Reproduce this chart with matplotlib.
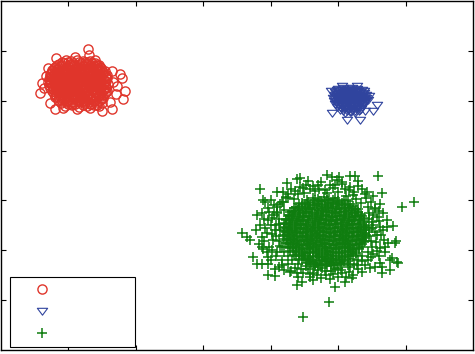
import matplotlib
matplotlib.use('Agg')
import matplotlib.pyplot as plt
from matplotlib.path import Path

# ---- data (axis units: ticks at 1..6 on both axes) ----
red_points = [
    (0.96,5.81),(1.04,5.79),(1.13,5.82),(1.21,5.80),(1.29,5.78),
    (0.86,5.73),(0.93,5.76),(1.02,5.74),(1.09,5.72),(1.18,5.75),(1.26,5.73),(1.35,5.76),(1.42,5.72),
    (0.80,5.67),(0.89,5.69),(0.97,5.66),(1.06,5.70),(1.14,5.67),(1.22,5.69),(1.31,5.66),(1.38,5.70),(1.47,5.67),
    (0.76,5.61),(0.83,5.63),(0.92,5.60),(1.00,5.64),(1.08,5.61),(1.17,5.63),(1.24,5.60),(1.33,5.62),(1.41,5.64),(1.50,5.61),
    (0.74,5.55),(0.81,5.57),(0.88,5.54),(0.96,5.58),(1.03,5.55),(1.11,5.57),(1.20,5.54),(1.27,5.56),(1.35,5.58),(1.44,5.55),(1.52,5.57),
    (0.72,5.49),(0.79,5.51),(0.86,5.48),(0.94,5.52),(1.01,5.50),(1.08,5.48),(1.16,5.51),(1.23,5.49),(1.31,5.52),(1.39,5.48),(1.47,5.51),(1.55,5.49),
    (0.71,5.43),(0.78,5.45),(0.85,5.42),(0.92,5.46),(0.99,5.44),(1.06,5.42),(1.13,5.45),(1.21,5.43),(1.28,5.46),(1.36,5.42),(1.44,5.45),(1.51,5.43),(1.57,5.46),
    (0.70,5.37),(0.77,5.39),(0.84,5.36),(0.90,5.40),(0.97,5.38),(1.04,5.36),(1.12,5.39),(1.19,5.37),(1.26,5.40),(1.34,5.36),(1.42,5.39),(1.49,5.37),(1.56,5.40),
    (0.71,5.31),(0.78,5.33),(0.85,5.30),(0.92,5.34),(0.99,5.32),(1.07,5.30),(1.14,5.33),(1.22,5.31),(1.29,5.34),(1.37,5.30),(1.45,5.33),(1.53,5.31),(1.58,5.34),
    (0.73,5.25),(0.80,5.27),(0.87,5.24),(0.94,5.28),(1.02,5.26),(1.09,5.24),(1.17,5.27),(1.24,5.25),(1.32,5.28),(1.40,5.24),(1.48,5.27),(1.56,5.25),
    (0.75,5.19),(0.82,5.21),(0.89,5.18),(0.97,5.22),(1.04,5.20),(1.12,5.18),(1.19,5.21),(1.27,5.19),(1.35,5.22),(1.43,5.18),(1.51,5.21),(1.57,5.19),
    (0.78,5.13),(0.85,5.15),(0.92,5.12),(1.00,5.16),(1.08,5.14),(1.15,5.12),(1.23,5.15),(1.31,5.13),(1.39,5.16),(1.47,5.12),(1.54,5.15),
    (0.80,5.07),(0.88,5.09),(0.96,5.06),(1.04,5.10),(1.12,5.08),(1.20,5.06),(1.28,5.09),(1.36,5.07),(1.44,5.10),(1.52,5.06),
    (0.84,5.01),(0.92,5.03),(1.00,5.00),(1.08,5.04),(1.16,5.02),(1.24,5.00),(1.32,5.03),(1.40,5.01),(1.48,5.04),
    (0.89,4.95),(0.97,4.97),(1.06,4.94),(1.15,4.98),(1.24,4.96),(1.33,4.94),(1.42,4.97),(1.50,4.95),
    (0.95,4.89),(1.05,4.91),(1.16,4.88),(1.27,4.90),(1.38,4.91),(1.46,4.89),
    # second, offset layer of the dense blob
    (0.90,5.77),(0.99,5.78),(1.07,5.76),(1.16,5.78),(1.24,5.77),(1.32,5.79),(1.39,5.76),
    (0.83,5.71),(0.91,5.72),(1.00,5.70),(1.09,5.71),(1.17,5.72),(1.26,5.70),(1.34,5.71),(1.42,5.69),(1.46,5.72),
    (0.78,5.65),(0.86,5.66),(0.94,5.64),(1.03,5.66),(1.11,5.65),(1.19,5.64),(1.28,5.66),(1.36,5.65),(1.44,5.64),(1.49,5.66),
    (0.75,5.59),(0.84,5.60),(0.91,5.58),(0.99,5.60),(1.07,5.59),(1.15,5.58),(1.23,5.60),(1.31,5.59),(1.39,5.58),(1.47,5.60),(1.54,5.59),
    (0.73,5.53),(0.82,5.54),(0.90,5.52),(0.97,5.54),(1.05,5.53),(1.12,5.52),(1.19,5.54),(1.27,5.53),(1.35,5.52),(1.43,5.54),(1.51,5.53),(1.57,5.52),
    (0.74,5.47),(0.82,5.48),(0.89,5.46),(0.96,5.48),(1.04,5.47),(1.11,5.46),(1.19,5.48),(1.26,5.47),(1.34,5.46),(1.41,5.48),(1.49,5.47),(1.56,5.46),
    (0.73,5.41),(0.80,5.42),(0.87,5.40),(0.95,5.42),(1.02,5.41),(1.09,5.40),(1.17,5.42),(1.24,5.41),(1.32,5.40),(1.39,5.42),(1.47,5.41),(1.54,5.40),
    (0.73,5.35),(0.81,5.36),(0.87,5.34),(0.94,5.36),(1.01,5.35),(1.08,5.34),(1.15,5.36),(1.23,5.35),(1.30,5.34),(1.38,5.36),(1.46,5.35),(1.53,5.34),
    (0.75,5.29),(0.82,5.30),(0.89,5.28),(0.96,5.30),(1.04,5.29),(1.11,5.28),(1.18,5.30),(1.26,5.29),(1.33,5.28),(1.41,5.30),(1.49,5.29),(1.55,5.28),
    (0.77,5.23),(0.84,5.24),(0.92,5.22),(0.99,5.24),(1.06,5.23),(1.14,5.22),(1.22,5.24),(1.29,5.23),(1.37,5.22),(1.45,5.24),(1.53,5.23),
    (0.80,5.17),(0.87,5.18),(0.95,5.16),(1.02,5.18),(1.10,5.17),(1.17,5.16),(1.25,5.18),(1.33,5.17),(1.41,5.16),(1.49,5.18),(1.55,5.17),
    (0.82,5.11),(0.90,5.12),(0.97,5.10),(1.05,5.12),(1.12,5.11),(1.20,5.10),(1.28,5.12),(1.36,5.11),(1.44,5.10),(1.51,5.12),
    (0.86,5.05),(0.93,5.06),(1.01,5.04),(1.09,5.06),(1.17,5.05),(1.25,5.04),(1.33,5.06),(1.41,5.05),(1.48,5.04),
    (0.90,4.99),(0.98,5.00),(1.06,4.98),(1.14,5.00),(1.22,4.99),(1.30,4.98),(1.38,5.00),(1.45,4.99),
    (0.99,4.93),(1.10,4.94),(1.21,4.92),(1.32,4.93),(1.42,4.92),
    # fringe
    (0.61,5.36),(0.58,5.16),(0.82,5.86),(1.29,6.04),(1.31,5.92),(1.77,5.54),(1.84,5.20),(1.81,5.04),
    (1.80,5.46),(1.65,4.84),(1.50,4.80),(0.80,4.84),(0.73,4.96),(0.92,4.86),(1.13,4.84),(1.32,4.86),
    (1.66,5.38),(1.70,5.14),(1.64,5.60),(0.66,5.50),(0.64,5.26),(1.10,5.88),(1.40,5.82),(0.70,5.66),
    (1.62,4.98),(1.72,5.30),
]

blue_points = [
    (5.00,5.24),(5.07,5.25),(5.14,5.23),(5.21,5.25),(5.28,5.24),
    (4.96,5.17),(5.02,5.19),(5.08,5.18),(5.14,5.17),(5.20,5.19),(5.26,5.18),(5.32,5.17),(5.38,5.19),
    (4.94,5.11),(5.00,5.13),(5.06,5.12),(5.12,5.11),(5.18,5.13),(5.24,5.12),(5.30,5.11),(5.36,5.13),(5.42,5.12),
    (4.93,5.05),(4.99,5.07),(5.05,5.06),(5.11,5.05),(5.17,5.07),(5.23,5.06),(5.29,5.05),(5.35,5.07),(5.41,5.06),
    (4.94,4.99),(5.00,5.01),(5.06,5.00),(5.12,4.99),(5.18,5.01),(5.24,5.00),(5.30,4.99),(5.36,5.01),(5.42,5.00),
    (4.96,4.93),(5.02,4.95),(5.08,4.94),(5.14,4.93),(5.20,4.95),(5.26,4.94),(5.32,4.93),(5.38,4.95),
    (4.99,4.87),(5.05,4.89),(5.11,4.88),(5.17,4.87),(5.23,4.89),(5.29,4.88),(5.35,4.87),
    (5.03,4.81),(5.09,4.83),(5.15,4.82),(5.21,4.81),(5.27,4.83),(5.33,4.82),
    (5.10,4.76),(5.18,4.77),(5.25,4.75),
    (4.99,5.21),(5.05,5.22),(5.11,5.20),(5.17,5.22),(5.23,5.21),(5.29,5.20),(5.35,5.22),
    (4.97,5.15),(5.03,5.16),(5.09,5.14),(5.15,5.16),(5.21,5.15),(5.27,5.14),(5.33,5.16),(5.39,5.15),
    (4.95,5.09),(5.02,5.10),(5.08,5.08),(5.14,5.10),(5.20,5.09),(5.26,5.08),(5.32,5.10),(5.38,5.09),
    (4.96,5.03),(5.02,5.04),(5.08,5.02),(5.14,5.04),(5.20,5.03),(5.26,5.02),(5.32,5.04),(5.38,5.03),(5.44,5.02),
    (4.97,4.97),(5.03,4.98),(5.09,4.96),(5.15,4.98),(5.21,4.97),(5.27,4.96),(5.33,4.98),(5.39,4.97),
    (5.00,4.91),(5.06,4.92),(5.12,4.90),(5.18,4.92),(5.24,4.91),(5.30,4.90),(5.36,4.92),
    (5.04,4.85),(5.10,4.86),(5.16,4.84),(5.22,4.86),(5.28,4.85),(5.34,4.84),
    (5.07,4.79),(5.13,4.80),(5.19,4.78),(5.25,4.80),(5.31,4.79),
    (4.91,4.76),(5.13,4.62),(5.33,4.62),(5.58,4.92),(5.52,4.80),(5.06,5.30),(5.28,5.30),
    (5.46,5.10),(4.90,5.20),(5.40,4.80),
]

green_points = [
    # dense core
    (4.62,3.05),(4.70,3.03),(4.79,3.06),(4.87,3.02),(4.96,3.04),
    (4.47,2.95),(4.55,2.97),(4.64,2.94),(4.72,2.98),(4.81,2.96),(4.89,2.94),(4.98,2.97),(5.06,2.95),(5.14,2.98),
    (4.38,2.87),(4.46,2.89),(4.55,2.86),(4.63,2.90),(4.72,2.88),(4.80,2.86),(4.89,2.89),(4.97,2.87),(5.06,2.90),(5.14,2.86),(5.22,2.89),
    (4.31,2.79),(4.40,2.81),(4.48,2.78),(4.57,2.82),(4.65,2.80),(4.74,2.78),(4.82,2.81),(4.91,2.79),(4.99,2.82),(5.08,2.78),(5.16,2.81),(5.25,2.79),(5.30,2.82),
    (4.27,2.71),(4.35,2.73),(4.44,2.70),(4.52,2.74),(4.61,2.72),(4.69,2.70),(4.78,2.73),(4.86,2.71),(4.95,2.74),(5.03,2.70),(5.12,2.73),(5.20,2.71),(5.29,2.74),(5.34,2.70),
    (4.23,2.63),(4.31,2.65),(4.40,2.62),(4.48,2.66),(4.57,2.64),(4.65,2.62),(4.74,2.65),(4.82,2.63),(4.91,2.66),(4.99,2.62),(5.08,2.65),(5.16,2.63),(5.25,2.66),(5.33,2.62),(5.38,2.65),
    (4.21,2.55),(4.29,2.57),(4.38,2.54),(4.46,2.58),(4.55,2.56),(4.63,2.54),(4.72,2.57),(4.80,2.55),(4.89,2.58),(4.97,2.54),(5.06,2.57),(5.14,2.55),(5.23,2.58),(5.31,2.54),(5.39,2.57),
    (4.19,2.47),(4.27,2.49),(4.36,2.46),(4.44,2.50),(4.53,2.48),(4.61,2.46),(4.70,2.49),(4.78,2.47),(4.87,2.50),(4.95,2.46),(5.04,2.49),(5.12,2.47),(5.21,2.50),(5.29,2.46),(5.38,2.49),(5.42,2.47),
    (4.20,2.39),(4.28,2.41),(4.37,2.38),(4.45,2.42),(4.54,2.40),(4.62,2.38),(4.71,2.41),(4.79,2.39),(4.88,2.42),(4.96,2.38),(5.05,2.41),(5.13,2.39),(5.22,2.42),(5.30,2.38),(5.39,2.41),
    (4.18,2.31),(4.26,2.33),(4.35,2.30),(4.43,2.34),(4.52,2.32),(4.60,2.30),(4.69,2.33),(4.77,2.31),(4.86,2.34),(4.94,2.30),(5.03,2.33),(5.11,2.31),(5.20,2.34),(5.28,2.30),(5.37,2.33),(5.42,2.31),
    (4.20,2.23),(4.29,2.25),(4.37,2.22),(4.46,2.26),(4.54,2.24),(4.63,2.22),(4.71,2.25),(4.80,2.23),(4.88,2.26),(4.97,2.22),(5.05,2.25),(5.14,2.23),(5.22,2.26),(5.31,2.22),(5.40,2.25),
    (4.22,2.15),(4.30,2.17),(4.39,2.14),(4.47,2.18),(4.56,2.16),(4.64,2.14),(4.73,2.17),(4.81,2.15),(4.90,2.18),(4.98,2.14),(5.07,2.17),(5.15,2.15),(5.24,2.18),(5.32,2.14),(5.38,2.17),
    (4.25,2.07),(4.33,2.09),(4.42,2.06),(4.50,2.10),(4.59,2.08),(4.67,2.06),(4.76,2.09),(4.84,2.07),(4.93,2.10),(5.01,2.06),(5.10,2.09),(5.18,2.07),(5.27,2.10),(5.35,2.06),
    (4.29,1.99),(4.37,2.01),(4.46,1.98),(4.54,2.02),(4.63,2.00),(4.71,1.98),(4.80,2.01),(4.88,1.99),(4.97,2.02),(5.05,1.98),(5.14,2.01),(5.22,1.99),(5.31,2.02),
    (4.34,1.91),(4.42,1.93),(4.51,1.90),(4.59,1.94),(4.68,1.92),(4.76,1.90),(4.85,1.93),(4.93,1.91),(5.02,1.94),(5.10,1.90),(5.19,1.93),(5.26,1.91),
    (4.42,1.83),(4.50,1.85),(4.59,1.82),(4.67,1.86),(4.76,1.84),(4.84,1.82),(4.93,1.85),(5.01,1.83),(5.10,1.86),(5.18,1.82),
    (4.52,1.75),(4.60,1.77),(4.69,1.74),(4.77,1.78),(4.86,1.76),(4.94,1.74),(5.03,1.77),(5.09,1.75),
    (4.66,1.69),(4.74,1.71),(4.83,1.68),(4.92,1.70),
    # second, offset layer of the core
    (4.54,3.00),(4.66,3.01),(4.75,2.99),(4.83,3.01),(4.92,3.00),(5.00,2.99),(5.09,3.01),
    (4.42,2.92),(4.51,2.93),(4.59,2.91),(4.68,2.93),(4.76,2.92),(4.85,2.91),(4.93,2.93),(5.02,2.92),(5.10,2.91),(5.18,2.93),
    (4.34,2.84),(4.42,2.85),(4.51,2.83),(4.59,2.85),(4.68,2.84),(4.76,2.83),(4.85,2.85),(4.93,2.84),(5.02,2.83),(5.10,2.85),(5.19,2.84),(5.26,2.83),
    (4.29,2.76),(4.36,2.77),(4.44,2.75),(4.53,2.77),(4.61,2.76),(4.70,2.75),(4.78,2.77),(4.87,2.76),(4.95,2.75),(5.04,2.77),(5.12,2.76),(5.21,2.75),(5.29,2.77),
    (4.25,2.68),(4.33,2.69),(4.42,2.67),(4.50,2.69),(4.59,2.68),(4.67,2.67),(4.76,2.69),(4.84,2.68),(4.93,2.67),(5.01,2.69),(5.10,2.68),(5.18,2.67),(5.27,2.69),(5.35,2.68),
    (4.22,2.60),(4.31,2.61),(4.39,2.59),(4.48,2.61),(4.56,2.60),(4.65,2.59),(4.73,2.61),(4.82,2.60),(4.90,2.59),(4.99,2.61),(5.07,2.60),(5.16,2.59),(5.24,2.61),(5.33,2.60),(5.38,2.59),
    (4.20,2.52),(4.28,2.53),(4.36,2.51),(4.45,2.53),(4.53,2.52),(4.62,2.51),(4.70,2.53),(4.79,2.52),(4.87,2.51),(4.96,2.53),(5.04,2.52),(5.13,2.51),(5.21,2.53),(5.30,2.52),(5.38,2.51),
    (4.19,2.44),(4.24,2.45),(4.32,2.43),(4.41,2.45),(4.49,2.44),(4.58,2.43),(4.66,2.45),(4.75,2.44),(4.83,2.43),(4.92,2.45),(5.00,2.44),(5.09,2.43),(5.17,2.45),(5.26,2.44),(5.34,2.43),(5.41,2.45),
    (4.22,2.36),(4.31,2.37),(4.39,2.35),(4.48,2.37),(4.56,2.36),(4.65,2.35),(4.73,2.37),(4.82,2.36),(4.90,2.35),(4.99,2.37),(5.07,2.36),(5.16,2.35),(5.24,2.37),(5.33,2.36),(5.40,2.35),
    (4.20,2.28),(4.27,2.29),(4.35,2.27),(4.44,2.29),(4.52,2.28),(4.61,2.27),(4.69,2.29),(4.78,2.28),(4.86,2.27),(4.95,2.29),(5.03,2.28),(5.12,2.27),(5.20,2.29),(5.29,2.28),(5.37,2.27),
    (4.24,2.20),(4.33,2.21),(4.41,2.19),(4.50,2.21),(4.58,2.20),(4.67,2.19),(4.75,2.21),(4.84,2.20),(4.92,2.19),(5.01,2.21),(5.09,2.20),(5.18,2.19),(5.26,2.21),(5.35,2.20),(5.40,2.19),
    (4.26,2.12),(4.35,2.13),(4.43,2.11),(4.52,2.13),(4.60,2.12),(4.69,2.11),(4.77,2.13),(4.86,2.12),(4.94,2.11),(5.03,2.13),(5.11,2.12),(5.20,2.11),(5.28,2.13),(5.36,2.12),
    (4.29,2.04),(4.38,2.05),(4.46,2.03),(4.55,2.05),(4.63,2.04),(4.72,2.03),(4.80,2.05),(4.89,2.04),(4.97,2.03),(5.06,2.05),(5.14,2.04),(5.23,2.03),(5.31,2.05),
    (4.33,1.96),(4.42,1.97),(4.50,1.95),(4.59,1.97),(4.67,1.96),(4.76,1.95),(4.84,1.97),(4.93,1.96),(5.01,1.95),(5.10,1.97),(5.18,1.96),(5.27,1.95),
    (4.38,1.88),(4.46,1.89),(4.55,1.87),(4.63,1.89),(4.72,1.88),(4.80,1.87),(4.89,1.89),(4.97,1.88),(5.06,1.87),(5.14,1.89),(5.22,1.88),
    (4.46,1.80),(4.55,1.81),(4.63,1.79),(4.72,1.81),(4.80,1.80),(4.89,1.79),(4.97,1.81),(5.06,1.80),(5.14,1.79),
    (4.58,1.72),(4.65,1.73),(4.73,1.71),(4.82,1.73),(4.90,1.72),(4.99,1.71),(5.05,1.73),
    # medium ring
    (4.30,3.22),(4.52,3.30),(4.66,3.18),(4.75,3.36),(4.93,3.24),(5.05,3.32),(5.16,3.20),(5.30,3.28),
    (5.40,3.12),(4.40,3.12),(4.84,3.14),(5.22,3.10),
    (4.00,3.00),(4.10,2.86),(3.96,2.60),(4.08,2.50),(4.02,2.32),(4.12,2.18),(3.98,2.06),(4.10,1.96),
    (4.05,2.70),(4.14,2.40),(4.16,1.80),(4.06,1.62),(4.25,1.72),(4.30,1.58),(4.18,2.96),
    (5.48,2.96),(5.52,2.70),(5.60,2.58),(5.50,2.44),(5.58,2.30),(5.48,2.18),(5.62,2.04),(5.52,1.92),
    (5.44,1.80),(5.55,2.82),(5.46,2.62),(5.66,2.40),(5.40,1.70),(5.30,1.62),(5.42,3.04),
    (4.45,1.62),(4.58,1.52),(4.70,1.60),(4.82,1.50),(4.95,1.62),(5.06,1.54),(5.18,1.66),(4.62,1.40),
    (4.88,1.42),(5.12,1.46),
    (4.12,2.62),(4.08,2.28),(4.14,2.08),(4.05,2.90),(4.20,2.80),(4.16,2.96),(4.22,3.06),(4.34,3.02),
    (4.50,3.14),(4.58,3.22),(4.72,3.22),(4.88,3.30),(5.00,3.16),(5.12,3.08),(5.26,3.02),(5.34,2.94),
    (5.44,2.86),(5.50,2.56),(5.54,2.36),(5.46,2.28),(5.50,2.06),(5.44,1.96),(5.36,1.88),(5.30,1.80),
    (5.24,1.72),(5.14,1.70),(5.00,1.64),(4.90,1.58),(4.76,1.64),(4.64,1.66),(4.52,1.68),(4.40,1.72),
    (4.32,1.80),(4.26,1.88),(4.20,1.96),(4.16,2.06),(3.92,2.44),(3.90,2.18),(4.00,1.80),(5.62,2.92),
    (5.68,2.20),(5.60,1.88),(4.44,3.26),(4.98,3.40),(5.30,3.38),(3.84,2.50),(3.94,1.96),
    (4.36,3.18),(4.48,3.24),(4.62,3.28),(4.80,3.20),(4.96,3.30),(5.10,3.22),(5.24,3.16),(5.36,3.22),
    (4.56,3.38),(4.70,3.30),(5.02,3.46),(4.26,3.12),
    (3.92,2.96),(3.98,2.76),(4.10,2.76),(3.90,2.62),(4.00,2.50),(4.12,2.52),(3.94,2.34),(4.04,2.20),
    (3.88,2.02),(4.02,2.00),(4.08,1.88),(3.96,1.72),(4.12,1.66),(4.20,1.60),(4.06,2.40),(4.14,2.92),
    (3.78,2.40),(3.82,2.12),
    (5.46,2.74),(5.58,2.66),(5.52,2.50),(5.62,2.46),(5.56,2.16),(5.64,2.30),(5.58,1.98),(5.48,1.86),
    (5.70,2.06),(5.72,2.60),(5.52,3.08),(5.60,2.78),(5.46,2.40),(5.36,1.78),
    (4.36,1.64),(4.48,1.54),(4.56,1.62),(4.68,1.50),(4.80,1.58),(4.92,1.52),(5.04,1.60),(5.16,1.56),
    (5.28,1.70),(5.36,1.56),(4.74,1.44),(5.00,1.46),(4.40,1.46),
    # outliers
    (4.84,3.52),(4.91,3.46),(5.59,3.50),(5.18,3.48),(5.25,3.48),(6.13,2.96),(5.95,2.86),(3.84,3.22),
    (4.09,3.16),(4.24,3.34),(4.39,3.42),(4.44,3.44),(3.58,2.34),(3.65,2.26),(3.69,2.20),(3.87,2.26),
    (3.87,2.06),(3.74,1.86),(3.80,1.72),(3.87,1.72),(3.96,1.86),(3.96,1.50),(4.07,1.48),(4.39,1.30),
    (4.47,1.36),(4.58,1.46),(4.96,1.26),(4.87,0.96),(4.48,0.66),(5.82,2.48),(5.86,2.18),(5.74,2.14),
    (5.77,1.80),(5.88,1.76),(5.65,1.66),(5.47,1.64),(5.65,1.54),(5.22,1.50),(5.21,1.44),(5.55,2.84),
    (5.65,3.14),(5.43,3.16),(4.09,2.74),(3.87,2.74),(3.80,2.70),(3.89,3.00),(5.06,3.36),(5.18,3.26),
    (5.67,2.74),(5.73,2.46),(4.02,2.64),(3.96,2.84),(4.18,3.16),(4.26,3.04),(4.17,1.70),(4.29,1.56),
    (4.39,1.54),(4.63,1.54),(5.10,1.36),(5.77,1.60),(5.89,1.74),(5.80,1.84),(5.62,1.74),(5.70,1.96),
    (5.85,2.14),(5.55,1.66),
]

series_labels = ['', '', '']
x_ticks = [1, 2, 3, 4, 5, 6]
y_ticks = [1, 2, 3, 4, 5, 6]

# ---- styles ----
red = '#e0352b'
blue = '#30449e'
green = '#0f7d0f'
tri_down = Path([(-1.0, 0.62), (1.0, 0.62), (0.0, -0.72), (-1.0, 0.62)],
                [Path.MOVETO, Path.LINETO, Path.LINETO, Path.CLOSEPOLY])

fig = plt.figure(figsize=(4.75, 3.54), dpi=100)
ax = fig.add_axes([1 / 475, 4 / 354, 472 / 475, 349 / 354])

rx, ry = zip(*red_points)
bx, by = zip(*blue_points)
gx, gy = zip(*green_points)

h1, = ax.plot(rx, ry, linestyle='none', marker='o', markersize=6.6,
              markerfacecolor='none', markeredgecolor=red, markeredgewidth=1.0)
h2, = ax.plot(bx, by, linestyle='none', marker=tri_down, markersize=7.4,
              markerfacecolor='none', markeredgecolor=blue, markeredgewidth=0.8)
h3, = ax.plot(gx, gy, linestyle='none', marker='+', markersize=7.2,
              markeredgecolor=green, markeredgewidth=1.1)

ax.set_xlim(0, 7)
ax.set_ylim(0, 7)
ax.set_xticks(x_ticks)
ax.set_yticks(y_ticks)
ax.tick_params(direction='in', length=3.6, width=0.8, top=True, right=True,
               labelbottom=False, labelleft=False)
for s in ax.spines.values():
    s.set_linewidth(1.0)

leg = ax.legend([h1, h2, h3], series_labels, loc='lower left',
                bbox_to_anchor=(9 / 472, 3 / 349, 125 / 472, 0.2), mode='expand',
                borderaxespad=0, borderpad=0.47, numpoints=1, handlelength=3.7,
                fontsize=10, labelspacing=0.55, fancybox=False, framealpha=1,
                edgecolor='black')
leg.get_frame().set_linewidth(0.8)

fig.savefig('out.png', dpi=100)
